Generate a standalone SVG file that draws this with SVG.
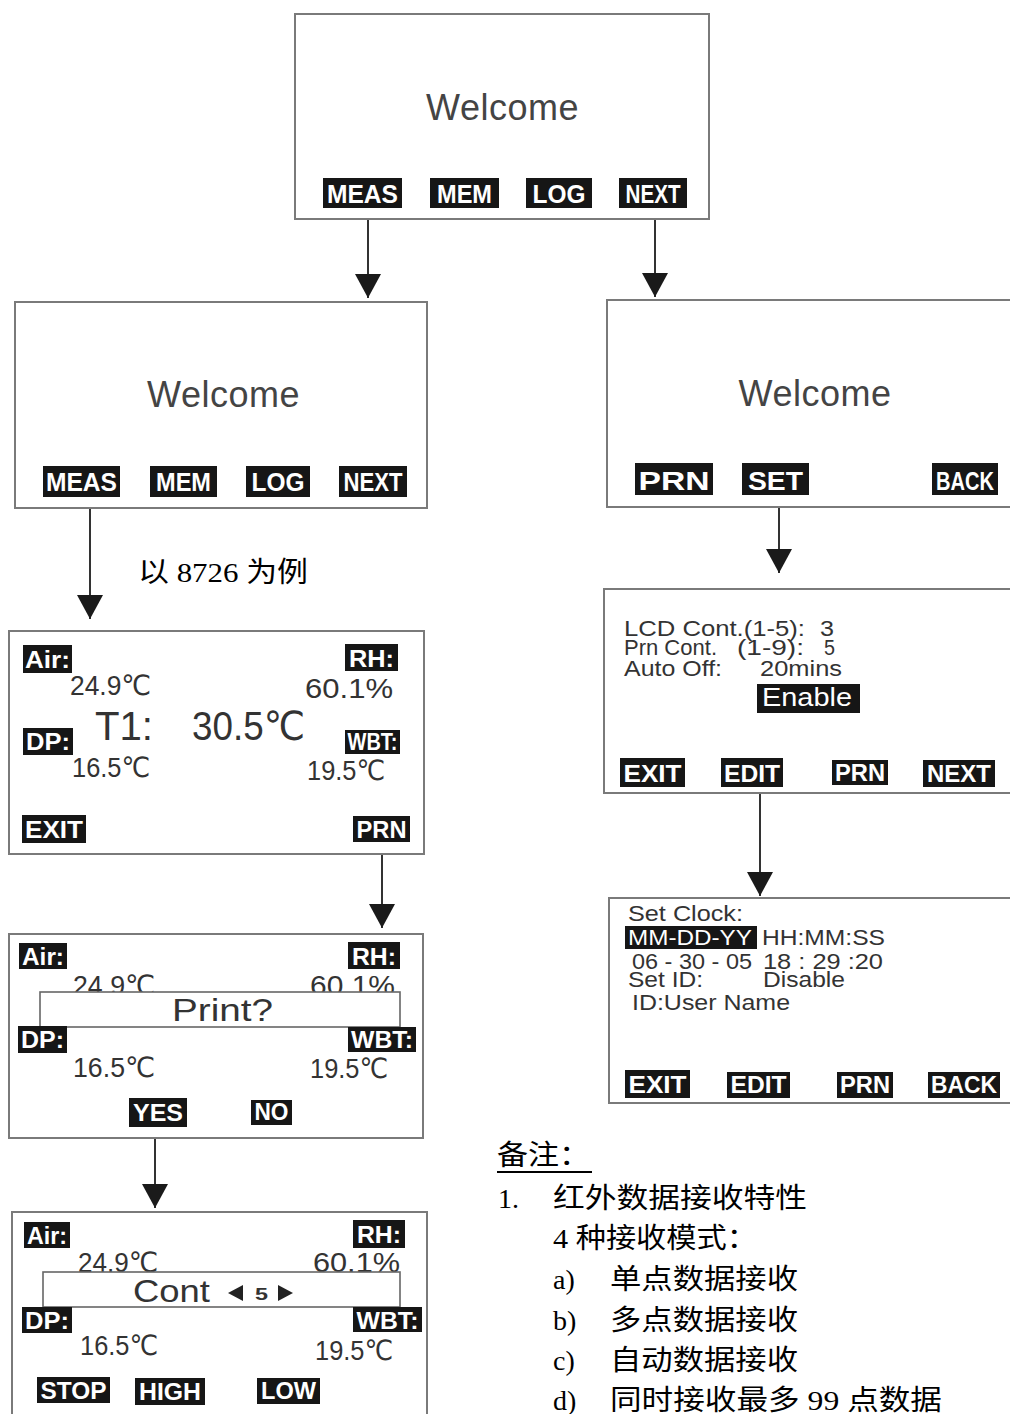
<svg xmlns="http://www.w3.org/2000/svg" width="1010" height="1414" viewBox="0 0 1010 1414">
<style>
.box{fill:#fff;stroke:#7a7a7a;stroke-width:2}
.inner{fill:#fff;stroke:#666;stroke-width:1.6}
.btn{fill:#161616}
.bt{font-family:"Liberation Sans",Arial,sans-serif;font-weight:bold;fill:#fff;font-size:26px;text-anchor:middle}
.bs{font-family:"Liberation Sans",Arial,sans-serif;font-weight:bold;fill:#fff;font-size:23px;text-anchor:middle}
.wel{font-family:"Liberation Sans",Arial,sans-serif;fill:#444;font-size:36px;text-anchor:middle;letter-spacing:0.5px}
.v{font-family:"Liberation Sans","DejaVu Sans",Arial,sans-serif;fill:#333;font-size:28px}
.big{font-family:"Liberation Sans","DejaVu Sans",Arial,sans-serif;fill:#333;font-size:40px}
.s{font-family:"Liberation Sans",Arial,sans-serif;fill:#333;font-size:22px}
.cn{font-family:"Liberation Serif","Noto Sans CJK SC",serif;fill:#000;font-size:28px}
.conn{stroke:#333;stroke-width:2;fill:none}
</style>
<defs>
<marker id="arr" markerUnits="userSpaceOnUse" markerWidth="26" markerHeight="26" viewBox="0 0 24 26" refX="24" refY="13" orient="auto">
<path d="M0,0 L24,13 L0,26 Z" fill="#1a1a1a"/>
</marker>
</defs>

<g id="connectors">
<path class="conn" d="M368,219 V298" marker-end="url(#arr)"/>
<path class="conn" d="M655,219 V297" marker-end="url(#arr)"/>
<path class="conn" d="M90,508 V619" marker-end="url(#arr)"/>
<path class="conn" d="M779,507 V573" marker-end="url(#arr)"/>
<path class="conn" d="M760,793 V896" marker-end="url(#arr)"/>
<path class="conn" d="M382,843 V928" marker-end="url(#arr)"/>
<path class="conn" d="M155,1138 V1208" marker-end="url(#arr)"/>
</g>

<g id="welcome-main">
<rect class="box" x="295" y="14" width="414" height="205"/>
<text class="wel" x="502.5" y="120">Welcome</text>
<rect class="btn" x="323" y="178" width="79" height="30"/><text class="bt" x="362.5" y="203" textLength="71" lengthAdjust="spacingAndGlyphs">MEAS</text>
<rect class="btn" x="430" y="178" width="69" height="30"/><text class="bt" x="464.5" y="203" textLength="55" lengthAdjust="spacingAndGlyphs">MEM</text>
<rect class="btn" x="526" y="178" width="66" height="30"/><text class="bt" x="559" y="203" textLength="53" lengthAdjust="spacingAndGlyphs">LOG</text>
<rect class="btn" x="619" y="178" width="68" height="30"/><text class="bt" x="653" y="203" textLength="55" lengthAdjust="spacingAndGlyphs">NEXT</text>
</g>

<g id="welcome-meas">
<rect class="box" x="15" y="302" width="412" height="206"/>
<text class="wel" x="223.5" y="407">Welcome</text>
<rect class="btn" x="43" y="466" width="77" height="31"/><text class="bt" x="81.5" y="491" textLength="71" lengthAdjust="spacingAndGlyphs">MEAS</text>
<rect class="btn" x="150" y="466" width="67" height="31"/><text class="bt" x="183.5" y="491" textLength="55" lengthAdjust="spacingAndGlyphs">MEM</text>
<rect class="btn" x="246" y="466" width="64" height="31"/><text class="bt" x="278" y="491" textLength="53" lengthAdjust="spacingAndGlyphs">LOG</text>
<rect class="btn" x="339" y="466" width="68" height="31"/><text class="bt" x="373" y="491" textLength="59" lengthAdjust="spacingAndGlyphs">NEXT</text>
</g>

<g id="welcome-next">
<rect class="box" x="607" y="300" width="410" height="207"/>
<text class="wel" x="815" y="406">Welcome</text>
<rect class="btn" x="635" y="463" width="78" height="32"/><text class="bt" x="674" y="490" textLength="71" lengthAdjust="spacingAndGlyphs">PRN</text>
<rect class="btn" x="742" y="463" width="67" height="32"/><text class="bt" x="775.5" y="490" textLength="55" lengthAdjust="spacingAndGlyphs">SET</text>
<rect class="btn" x="932" y="463" width="66" height="32"/><text class="bt" x="965" y="490" textLength="58" lengthAdjust="spacingAndGlyphs">BACK</text>
</g>

<g id="example-label">
<text class="cn" x="138" y="582" textLength="170" lengthAdjust="spacingAndGlyphs">以 8726 为例</text>
</g>

<g id="measure-screen">
<rect class="box" x="9" y="631" width="415" height="223"/>
<rect class="btn" x="23" y="645" width="49" height="28"/><text class="bs" x="47.5" y="668" textLength="45" lengthAdjust="spacingAndGlyphs">Air:</text>
<rect class="btn" x="345" y="644" width="53" height="27"/><text class="bs" x="371.5" y="667" textLength="45" lengthAdjust="spacingAndGlyphs">RH:</text>
<text class="v" x="70" y="695" textLength="81" lengthAdjust="spacingAndGlyphs">24.9℃</text>
<text class="v" x="305" y="698" textLength="88" lengthAdjust="spacingAndGlyphs">60.1%</text>
<text class="big" x="95" y="740" textLength="58" lengthAdjust="spacingAndGlyphs">T1:</text>
<text class="big" x="192" y="740" textLength="113" lengthAdjust="spacingAndGlyphs">30.5℃</text>
<rect class="btn" x="23" y="728" width="50" height="27"/><text class="bs" x="48" y="750" textLength="44" lengthAdjust="spacingAndGlyphs">DP:</text>
<rect class="btn" x="345" y="730" width="55" height="24"/><text class="bs" x="372.5" y="750" textLength="50" lengthAdjust="spacingAndGlyphs">WBT:</text>
<text class="v" x="72" y="777" textLength="78" lengthAdjust="spacingAndGlyphs">16.5℃</text>
<text class="v" x="307" y="780" textLength="78" lengthAdjust="spacingAndGlyphs">19.5℃</text>
<rect class="btn" x="22" y="815" width="64" height="28"/><text class="bs" x="54" y="838" textLength="58" lengthAdjust="spacingAndGlyphs">EXIT</text>
<rect class="btn" x="353" y="816" width="57" height="26"/><text class="bs" x="381.5" y="838" textLength="50" lengthAdjust="spacingAndGlyphs">PRN</text>
</g>

<g id="print-screen">
<rect class="box" x="9" y="934" width="414" height="204"/>
<rect class="btn" x="19" y="943" width="48" height="26"/><text class="bs" x="43" y="965" textLength="42" lengthAdjust="spacingAndGlyphs">Air:</text>
<rect class="btn" x="348" y="942" width="52" height="27"/><text class="bs" x="374" y="965" textLength="44" lengthAdjust="spacingAndGlyphs">RH:</text>
<text class="v" x="73" y="995" textLength="82" lengthAdjust="spacingAndGlyphs">24.9℃</text>
<text class="v" x="310" y="995" textLength="85" lengthAdjust="spacingAndGlyphs">60.1%</text>
<rect class="inner" x="40" y="992" width="360" height="35"/>
<text class="v" x="222.5" y="1021" style="font-size:32px;text-anchor:middle" textLength="101" lengthAdjust="spacingAndGlyphs">Print?</text>
<rect class="btn" x="18" y="1026" width="49" height="27"/><text class="bs" x="42.5" y="1048" textLength="43" lengthAdjust="spacingAndGlyphs">DP:</text>
<rect class="btn" x="348" y="1027" width="68" height="25"/><text class="bs" x="382" y="1048" textLength="62" lengthAdjust="spacingAndGlyphs">WBT:</text>
<text class="v" x="73" y="1077" textLength="82" lengthAdjust="spacingAndGlyphs">16.5℃</text>
<text class="v" x="310" y="1078" textLength="78" lengthAdjust="spacingAndGlyphs">19.5℃</text>
<rect class="btn" x="129" y="1098" width="58" height="29"/><text class="bs" x="158" y="1121" textLength="50" lengthAdjust="spacingAndGlyphs">YES</text>
<rect class="btn" x="251" y="1100" width="41" height="25"/><text class="bs" x="271.5" y="1120" textLength="34" lengthAdjust="spacingAndGlyphs">NO</text>
</g>

<g id="cont-screen">
<rect class="box" x="12" y="1212" width="415" height="220"/>
<rect class="btn" x="24" y="1222" width="46" height="26"/><text class="bs" x="47" y="1244" textLength="40" lengthAdjust="spacingAndGlyphs">Air:</text>
<rect class="btn" x="353" y="1220" width="52" height="28"/><text class="bs" x="379" y="1243" textLength="44" lengthAdjust="spacingAndGlyphs">RH:</text>
<text class="v" x="78" y="1272" textLength="80" lengthAdjust="spacingAndGlyphs">24.9℃</text>
<text class="v" x="313" y="1272" textLength="87" lengthAdjust="spacingAndGlyphs">60.1%</text>
<rect class="inner" x="43" y="1272" width="357" height="35"/>
<text class="v" x="133" y="1302" style="font-size:32px" textLength="77" lengthAdjust="spacingAndGlyphs">Cont</text>
<polygon points="228,1293 243,1285 243,1301" fill="#222"/>
<text class="s" x="255" y="1300" style="font-size:17px;font-weight:bold" textLength="13" lengthAdjust="spacingAndGlyphs">5</text>
<polygon points="278,1285 293,1293 278,1301" fill="#222"/>
<rect class="btn" x="22" y="1307" width="50" height="26"/><text class="bs" x="47" y="1329" textLength="44" lengthAdjust="spacingAndGlyphs">DP:</text>
<rect class="btn" x="353" y="1307" width="69" height="25"/><text class="bs" x="387.5" y="1329" textLength="62" lengthAdjust="spacingAndGlyphs">WBT:</text>
<text class="v" x="80" y="1355" textLength="78" lengthAdjust="spacingAndGlyphs">16.5℃</text>
<text class="v" x="315" y="1360" textLength="78" lengthAdjust="spacingAndGlyphs">19.5℃</text>
<rect class="btn" x="37" y="1377" width="73" height="26"/><text class="bs" x="73.5" y="1399" textLength="66" lengthAdjust="spacingAndGlyphs">STOP</text>
<rect class="btn" x="135" y="1378" width="70" height="27"/><text class="bs" x="170" y="1400" textLength="62" lengthAdjust="spacingAndGlyphs">HIGH</text>
<rect class="btn" x="257" y="1378" width="63" height="26"/><text class="bs" x="288.5" y="1399" textLength="55" lengthAdjust="spacingAndGlyphs">LOW</text>
</g>

<g id="settings-screen">
<rect class="box" x="604" y="589" width="412" height="204"/>
<text class="s" x="624" y="636" textLength="181" lengthAdjust="spacingAndGlyphs">LCD Cont.(1-5):</text>
<text class="s" x="820" y="636" textLength="14" lengthAdjust="spacingAndGlyphs">3</text>
<text class="s" x="624" y="655" textLength="93" lengthAdjust="spacingAndGlyphs">Prn Cont.</text>
<text class="s" x="737" y="655" textLength="67" lengthAdjust="spacingAndGlyphs">(1-9):</text>
<text class="s" x="824" y="655" textLength="11" lengthAdjust="spacingAndGlyphs">5</text>
<text class="s" x="624" y="676" textLength="98" lengthAdjust="spacingAndGlyphs">Auto Off:</text>
<text class="s" x="760" y="676" textLength="82" lengthAdjust="spacingAndGlyphs">20mins</text>
<rect class="btn" x="757" y="684" width="103" height="29"/>
<text class="s" x="762" y="706" style="fill:#fff;font-size:25px" textLength="90" lengthAdjust="spacingAndGlyphs">Enable</text>
<rect class="btn" x="620" y="758" width="65" height="29"/><text class="bs" x="652.5" y="782" textLength="58" lengthAdjust="spacingAndGlyphs">EXIT</text>
<rect class="btn" x="721" y="758" width="62" height="29"/><text class="bs" x="752" y="782" textLength="56" lengthAdjust="spacingAndGlyphs">EDIT</text>
<rect class="btn" x="832" y="760" width="56" height="25"/><text class="bs" x="860" y="781" textLength="50" lengthAdjust="spacingAndGlyphs">PRN</text>
<rect class="btn" x="923" y="760" width="72" height="27"/><text class="bs" x="959" y="782" textLength="64" lengthAdjust="spacingAndGlyphs">NEXT</text>
</g>

<g id="clock-screen">
<rect class="box" x="609" y="898" width="407" height="205"/>
<text class="s" x="628" y="921" textLength="115" lengthAdjust="spacingAndGlyphs">Set Clock:</text>
<rect class="btn" x="625" y="926" width="132" height="23"/>
<text class="s" x="628" y="945" style="fill:#fff" textLength="124" lengthAdjust="spacingAndGlyphs">MM-DD-YY</text>
<text class="s" x="762" y="945" textLength="123" lengthAdjust="spacingAndGlyphs">HH:MM:SS</text>
<text class="s" x="632" y="969" textLength="120" lengthAdjust="spacingAndGlyphs">06 - 30 - 05</text>
<text class="s" x="763" y="969" textLength="120" lengthAdjust="spacingAndGlyphs">18 : 29 :20</text>
<text class="s" x="628" y="987" textLength="75" lengthAdjust="spacingAndGlyphs">Set ID:</text>
<text class="s" x="763" y="987" textLength="82" lengthAdjust="spacingAndGlyphs">Disable</text>
<text class="s" x="632" y="1010" textLength="158" lengthAdjust="spacingAndGlyphs">ID:User Name</text>
<rect class="btn" x="625" y="1070" width="65" height="28"/><text class="bs" x="657.5" y="1093" textLength="58" lengthAdjust="spacingAndGlyphs">EXIT</text>
<rect class="btn" x="727" y="1072" width="63" height="26"/><text class="bs" x="758.5" y="1093" textLength="56" lengthAdjust="spacingAndGlyphs">EDIT</text>
<rect class="btn" x="837" y="1072" width="56" height="26"/><text class="bs" x="865" y="1093" textLength="50" lengthAdjust="spacingAndGlyphs">PRN</text>
<rect class="btn" x="928" y="1072" width="72" height="26"/><text class="bs" x="964" y="1093" textLength="66" lengthAdjust="spacingAndGlyphs">BACK</text>
</g>

<g id="notes">
<text class="cn" x="497" y="1165" textLength="93" lengthAdjust="spacingAndGlyphs">备注：</text>
<line x1="497" y1="1172" x2="592" y2="1172" stroke="#000" stroke-width="2"/>
<text class="cn" x="498" y="1208">1.</text>
<text class="cn" x="553" y="1208" textLength="254" lengthAdjust="spacingAndGlyphs">红外数据接收特性</text>
<text class="cn" x="553" y="1248" textLength="204" lengthAdjust="spacingAndGlyphs">4 种接收模式：</text>
<text class="cn" x="553" y="1289">a)</text>
<text class="cn" x="610" y="1289" textLength="188" lengthAdjust="spacingAndGlyphs">单点数据接收</text>
<text class="cn" x="553" y="1330">b)</text>
<text class="cn" x="610" y="1330" textLength="188" lengthAdjust="spacingAndGlyphs">多点数据接收</text>
<text class="cn" x="553" y="1370">c)</text>
<text class="cn" x="610" y="1370" textLength="188" lengthAdjust="spacingAndGlyphs">自动数据接收</text>
<text class="cn" x="553" y="1410">d)</text>
<text class="cn" x="610" y="1410" textLength="332" lengthAdjust="spacingAndGlyphs">同时接收最多 99 点数据</text>
</g>
</svg>
